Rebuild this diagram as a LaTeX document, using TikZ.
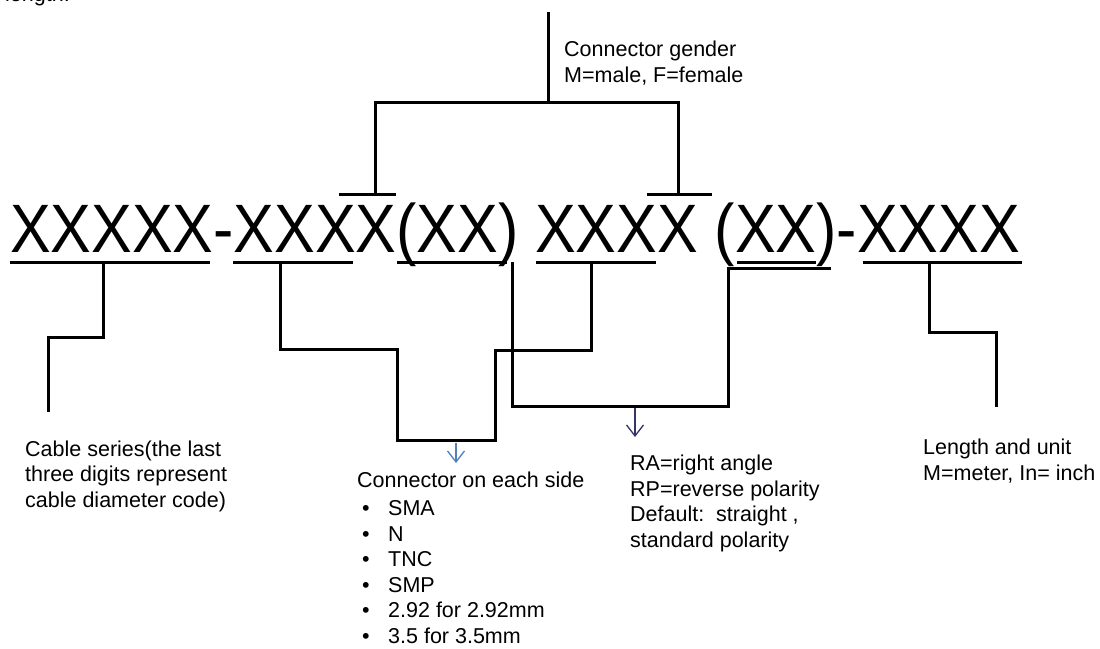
\documentclass[tikz,border=0pt]{standalone}
\usepackage{fontspec}
\setmainfont{Liberation Sans}
\usetikzlibrary{arrows.meta}

\definecolor{tipblue}{RGB}{79,129,189}
\definecolor{tipnavy}{RGB}{52,52,102}

\newcommand{\conitem}[1]{\hspace*{5pt}\makebox[26pt][l]{•}#1}

\tikzset{
  bar/.style={line width=3pt},
  note/.style={font=\fontsize{21.5}{25.5}\selectfont, anchor=base west, align=left, inner sep=0pt},
  tip/.style={line width=1.3pt, -{Straight Barb[length=11pt,width=17pt]}}
}

\begin{document}
\begin{tikzpicture}[x=1pt,y=-1pt]
	\useasboundingbox (0,0) rectangle (1100,648);
	
	% Codice del cavo
	\node[note] (cut) at (5,1) {length.};
	\node[font=\fontsize{68.5}{70}\selectfont, anchor=base west, inner sep=0pt] (code) at (10,252) {\scalebox{0.89}[1]{XXXXX-XXXX(XX) XXXX (XX)-XXXX}};
	
	% Sottolineature e sopralineature
	\draw[bar] (10,262) -- (210,262);
	\draw[bar] (233,262) -- (353,262);
	\draw[bar] (397,262) -- (507,262);
	\draw[bar] (536,262) -- (656,262);
	\draw[bar] (737,262) -- (816,262);
	\draw[bar] (863,262) -- (1022,262);
	\draw[bar] (339,194) -- (396,194);
	\draw[bar] (647,194) -- (712,194);
	
	% Etichette (ancorate all'ultima riga)
	\node[note] (gender) at (564,82) {Connector gender\\M=male, F=female};
	\node[note] (series) at (25,507) {Cable series(the last\\three digits represent\\cable diameter code)};
	\node[note] (conn) at (357,643) {Connector on each side\\[2.5pt]\conitem{SMA}\\\conitem{N}\\\conitem{TNC}\\\conitem{SMP}\\\conitem{2.92 for 2.92mm}\\\conitem{3.5 for 3.5mm}};
	\node[note] (angle) at (630,547) {RA=right angle\\RP=reverse polarity\\Default:\ \ straight ,\\standard polarity};
	\node[note] (length) at (923,480) {Length and unit\\M=meter, In= inch};
	
	% Punti di attacco
	\coordinate (genTop) at (548,12);
	\coordinate (genMid) at (548,102);
	\coordinate (genL) at (375,194);
	\coordinate (genR) at (678,194);
	\coordinate (serTop) at (103,262);
	\coordinate (serEnd) at (48,412);
	\coordinate (conA) at (280,262);
	\coordinate (conB) at (591,262);
	\coordinate (conBox) at (397,440);
	\coordinate (angTop) at (512,262);
	\coordinate (angR) at (831,268);
	\coordinate (lenTop) at (929,262);
	\coordinate (lenEnd) at (996,407);
	
	% Collegamenti
	\draw[bar] (genTop) -- (genMid);
	\draw[bar] (genL) |- (genMid) -| (genR);
	\draw[bar] (serTop) -- ++(0,75) -| (serEnd);
	\draw[bar] (conA) -- ++(0,87) -| (conBox) -- ++(98,0) |- (591,350) -- (conB);
	\draw[bar] (angTop) -- ++(0,144) -| (728,268) -- (angR);
	\draw[bar] (lenTop) -- ++(0,70) -| (lenEnd);
	
	% Frecce
	\coordinate (connArr) at (456,443);
	\coordinate (angArr) at (635,408);
	\draw[tip, tipblue] (connArr) -- ++(0,20);
	\draw[tip, tipnavy] (angArr) -- ++(0,29);
\end{tikzpicture}
\end{document}
